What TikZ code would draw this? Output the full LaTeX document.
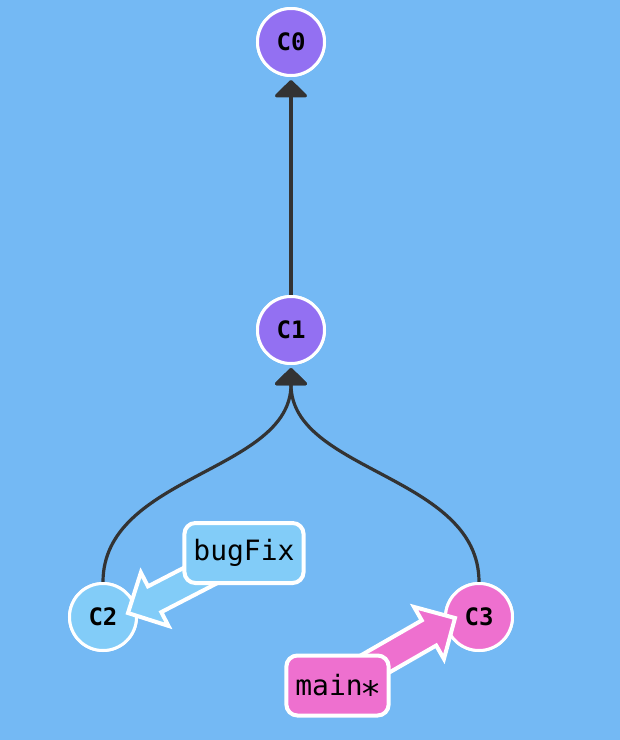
\documentclass[tikz,border=0pt]{standalone}
\usepackage{fontspec}
\setmonofont{DejaVu Sans Mono}
\usetikzlibrary{calc,arrows.meta}
\definecolor{bgblue}{HTML}{74B9F4}
\definecolor{cpurple}{HTML}{9370F2}
\definecolor{cpink}{HTML}{EE70CF}
\definecolor{clight}{HTML}{82CCF8}
\definecolor{edgegray}{HTML}{333333}
\tikzset{
  commit/.style={circle, draw=white, line width=3pt, minimum size=67pt, inner sep=0pt,
    font=\ttfamily\bfseries\fontsize{24}{24}\selectfont},
  branchlabel/.style={rectangle, rounded corners=11pt, draw=white, line width=4pt,
    minimum height=60pt, inner xsep=9pt, inner ysep=0pt,
    font=\ttfamily\fontsize{28}{28}\selectfont},
  edge/.style={draw=edgegray, line width=3.2pt,
    -{Triangle[width=36pt,length=18pt,round]}, shorten >=3pt},
}
\newcommand\blockarrow[3]{%
  \coordinate (ba-h) at ($(#3)!30pt!(#2)$);
  \filldraw[fill=#1, draw=white, line width=4pt, line join=miter]
    ($(#2)!14.5pt!90:(#3)$) -- ($(ba-h)!14.5pt!-90:(#2)$) -- ($(ba-h)!30pt!-90:(#2)$)
    -- (#3) -- ($(ba-h)!30pt!90:(#2)$) -- ($(ba-h)!14.5pt!90:(#2)$)
    -- ($(#2)!14.5pt!-90:(#3)$) -- cycle;
}
\begin{document}
\begin{tikzpicture}[x=1pt,y=-1pt]
\fill[bgblue] (0,0) rectangle (620,740);
\useasboundingbox (0,0) rectangle (620,740);

\node[commit, fill=cpurple] (C0) at (291,42) {C0};
\node[commit, fill=cpurple] (C1) at (291,330) {C1};
\node[commit, fill=clight] (C2) at (103,617) {C2};
\node[commit, fill=cpink] (C3) at (479,617) {C3};

\draw[edge] (C1.north) -- (C0.south);
\draw[edge] (C2.north) .. controls +(0,-107) and +(0,107) .. (C1.south);
\draw[edge] (C3.north) .. controls +(0,-107) and +(0,107) .. (C1.south);

\node[commit, fill=cpurple] at (C0) {C0};
\node[commit, fill=cpurple] at (C1) {C1};
\node[commit, fill=clight] at (C2) {C2};
\node[commit, fill=cpink] at (C3) {C3};

\coordinate (bugtail) at (244,553);
\coordinate (maintail) at (337.5,685.5);
\coordinate (bugtip) at ($(C2.center)+(25,-4)$);
\coordinate (maintip) at ($(C3.center)+(-24,1)$);

\blockarrow{clight}{bugtail}{bugtip}
\blockarrow{cpink}{maintail}{maintip}

\node[branchlabel, fill=clight] (bugFix) at (bugtail) {bugFix};
\node[branchlabel, fill=cpink] (main) at (maintail) {main\makebox[0.602em]{\smash{\raisebox{-0.36em}{\scalebox{1.25}{*}}}}};
\end{tikzpicture}
\end{document}
